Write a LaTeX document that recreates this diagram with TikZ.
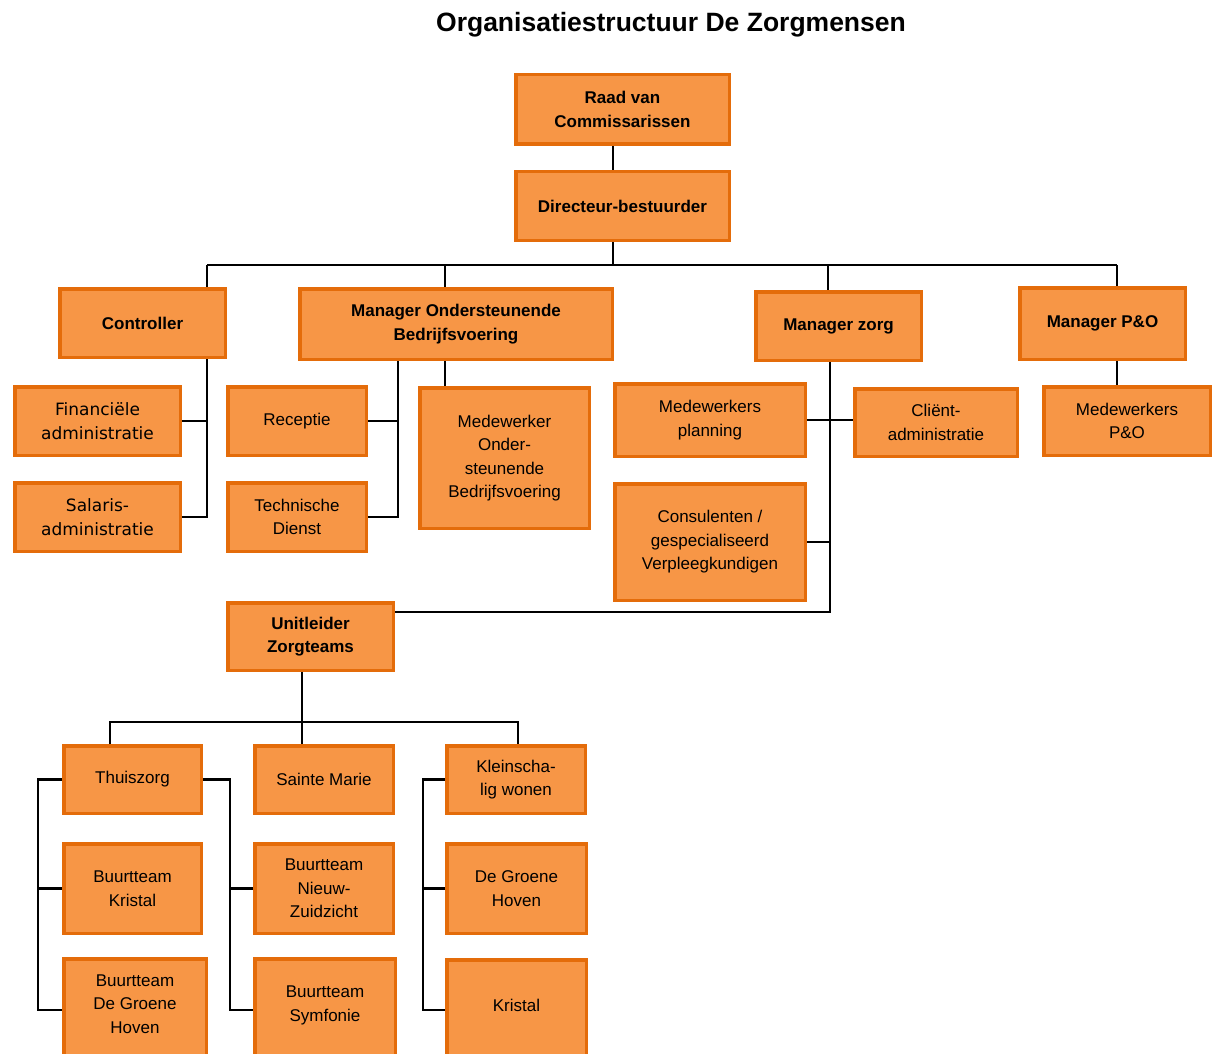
\documentclass[tikz,border=0pt]{standalone}
\usepackage{fontspec}
\setmainfont{Liberation Sans}
\newfontfamily\verd{DejaVu Sans}
\definecolor{boxfill}{HTML}{F79646}
\definecolor{boxline}{HTML}{E46C0A}
\newcommand\upText[2]{\raisebox{0pt}[\height][\dimexpr\depth+#1\relax]{\begin{tabular}{@{}c@{}}#2\end{tabular}}}
\begin{document}
\begin{tikzpicture}[x=1pt,y=-1pt,
  box/.style={draw=boxline, fill=boxfill, line width=3.5pt, inner sep=0pt, align=center,
    font=\fontsize{17}{23.5}\selectfont, text=black},
  bbox/.style={box, font=\fontsize{17}{23.5}\selectfont\bfseries},
  conn/.style={line width=2.5pt, black},
  sz/.style n args={2}{minimum width=#1pt-3.5pt, minimum height=#2pt-3.5pt}]
\clip (0,0) rectangle (1216,1054);
\fill[white] (0,0) rectangle (1216,1054);
\node[font=\fontsize{26.5}{30}\selectfont\bfseries] (title) at (671,25) {Organisatiestructuur De Zorgmensen};

\node[bbox, sz={217}{73}] (raad) at (622.5,109.5) {Raad van\\Commissarissen};
\node[bbox, sz={217}{72}] (dir) at (622.5,206) {Directeur-bestuurder};
\node[bbox, sz={169}{72}] (ctrl) at (142.5,323) {Controller};
\node[bbox, sz={316}{74}] (mob) at (456,324) {Manager Ondersteunende\\Bedrijfsvoering};
\node[bbox, sz={169}{72}] (mz) at (838.5,326) {Manager zorg};
\node[bbox, sz={169}{75}] (mpo) at (1102.5,323.5) {Manager P\&O};

\node[box, sz={169}{72}, font=\verd\fontsize{17}{23.5}\selectfont] (fin) at (97.5,421) {Financiële\\administratie};
\node[box, sz={169}{72}, font=\verd\fontsize{17}{23.5}\selectfont] (sal) at (97.5,517) {Salaris-\\administratie};
\node[box, sz={142}{72}] (rec) at (297,421) {Receptie};
\node[box, sz={142}{72}] (tech) at (297,517) {Technische\\Dienst};
\node[box, sz={173}{144}] (mwo) at (504.5,458) {Medewerker\\Onder-\\steunende\\Bedrijfsvoering};
\node[box, sz={194}{76}] (mpl) at (710,420) {Medewerkers\\planning};
\node[box, sz={166}{71}] (cli) at (936,422.5) {Cliënt-\\administratie};
\node[box, sz={194}{120}] (cons) at (710,542) {Consulenten /\\gespecialiseerd\\Verpleegkundigen};
\node[box, sz={170}{72}] (mwpo) at (1127,421) {Medewerkers\\P\&O};

\node[bbox, sz={169}{71}] (unit) at (310.5,636.5) {Unitleider\\Zorgteams};
\node[box, sz={141}{71}] (thuis) at (132.5,779.5) {Thuiszorg};
\node[box, sz={142}{71}] (sainte) at (324,779.5) {Sainte Marie};
\node[box, sz={142}{71}] (klein) at (516,779.5) {Kleinscha-\\lig wonen};
\node[box, sz={141}{93}] (bkr) at (132.5,888.5) {Buurtteam\\Kristal};
\node[box, sz={142}{93}] (bnz) at (324,888.5) {Buurtteam\\Nieuw-\\Zuidzicht};
\node[box, sz={143}{93}] (dgh) at (516.5,888.5) {De Groene\\Hoven};
\node[box, sz={146}{110}] (bdgh) at (135,1012) {\upText{14pt}{Buurtteam\\De Groene\\Hoven}};
\node[box, sz={144}{110}] (bsym) at (325,1012) {\upText{14pt}{Buurtteam\\Symfonie}};
\node[box, sz={143}{109}] (kristal) at (516.5,1012.5) {\upText{11pt}{Kristal}};

% coordinates for connector routing
\coordinate (t1) at (613,265);
\coordinate (busL) at (207,265);
\coordinate (busR) at (1117,265);
\coordinate (bx2) at (445,265);
\coordinate (bx3) at (828,265);
\coordinate (cx1) at (207,517);
\coordinate (cx2) at (398,517);
\coordinate (zl) at (830,612);
\coordinate (ux) at (302,722);
\coordinate (ubL) at (110,722);
\coordinate (ubR) at (518,722);
\coordinate (lA) at (38,1010);
\coordinate (lB) at (230,1010);
\coordinate (lC) at (423,1010);

\draw[conn] (raad.south -| t1) -- (dir.north -| t1);
\draw[conn] (dir.south -| t1) -- (t1);
\draw[conn] (busL) -- (busR);
\draw[conn] (busL) -- (ctrl.north -| busL);
\draw[conn] (bx2) -- (mob.north -| bx2);
\draw[conn] (bx3) -- (mz.north -| bx3);
\draw[conn] (busR) -- (mpo.north -| busR);

\draw[conn] (ctrl.south -| cx1) -- (cx1) -- (sal.east |- cx1);
\draw[conn] (fin.east) -- (fin.east -| cx1);
\draw[conn] (mob.south -| cx2) -- (cx2) -- (tech.east |- cx2);
\draw[conn] (rec.east) -- (rec.east -| cx2);
\draw[conn] (mob.south -| bx2) -- (mwo.north -| bx2);

\draw[conn] (mz.south -| zl) -- (zl) -- (unit.east |- zl);
\draw[conn] (mpl.east) -- (cli.west |- mpl.east);
\draw[conn] (cons.east) -- (cons.east -| zl);
\draw[conn] (mpo.south -| busR) -- (mwpo.north -| busR);

\draw[conn] (unit.south -| ux) -- (sainte.north -| ux);
\draw[conn] (thuis.north -| ubL) -- (ubL) -- (ubR) -- (klein.north -| ubR);

\draw[conn] (thuis.west) -- (thuis.west -| lA) -- (lA) -- (bdgh.west |- lA);
\draw[conn] (bkr.west) -- (bkr.west -| lA);
\draw[conn] (thuis.east) -- (thuis.east -| lB) -- (lB) -- (bsym.west |- lB);
\draw[conn] (bnz.west) -- (bnz.west -| lB);
\draw[conn] (klein.west) -- (klein.west -| lC) -- (lC) -- (kristal.west |- lC);
\draw[conn] (dgh.west) -- (dgh.west -| lC);
\end{tikzpicture}
\end{document}
